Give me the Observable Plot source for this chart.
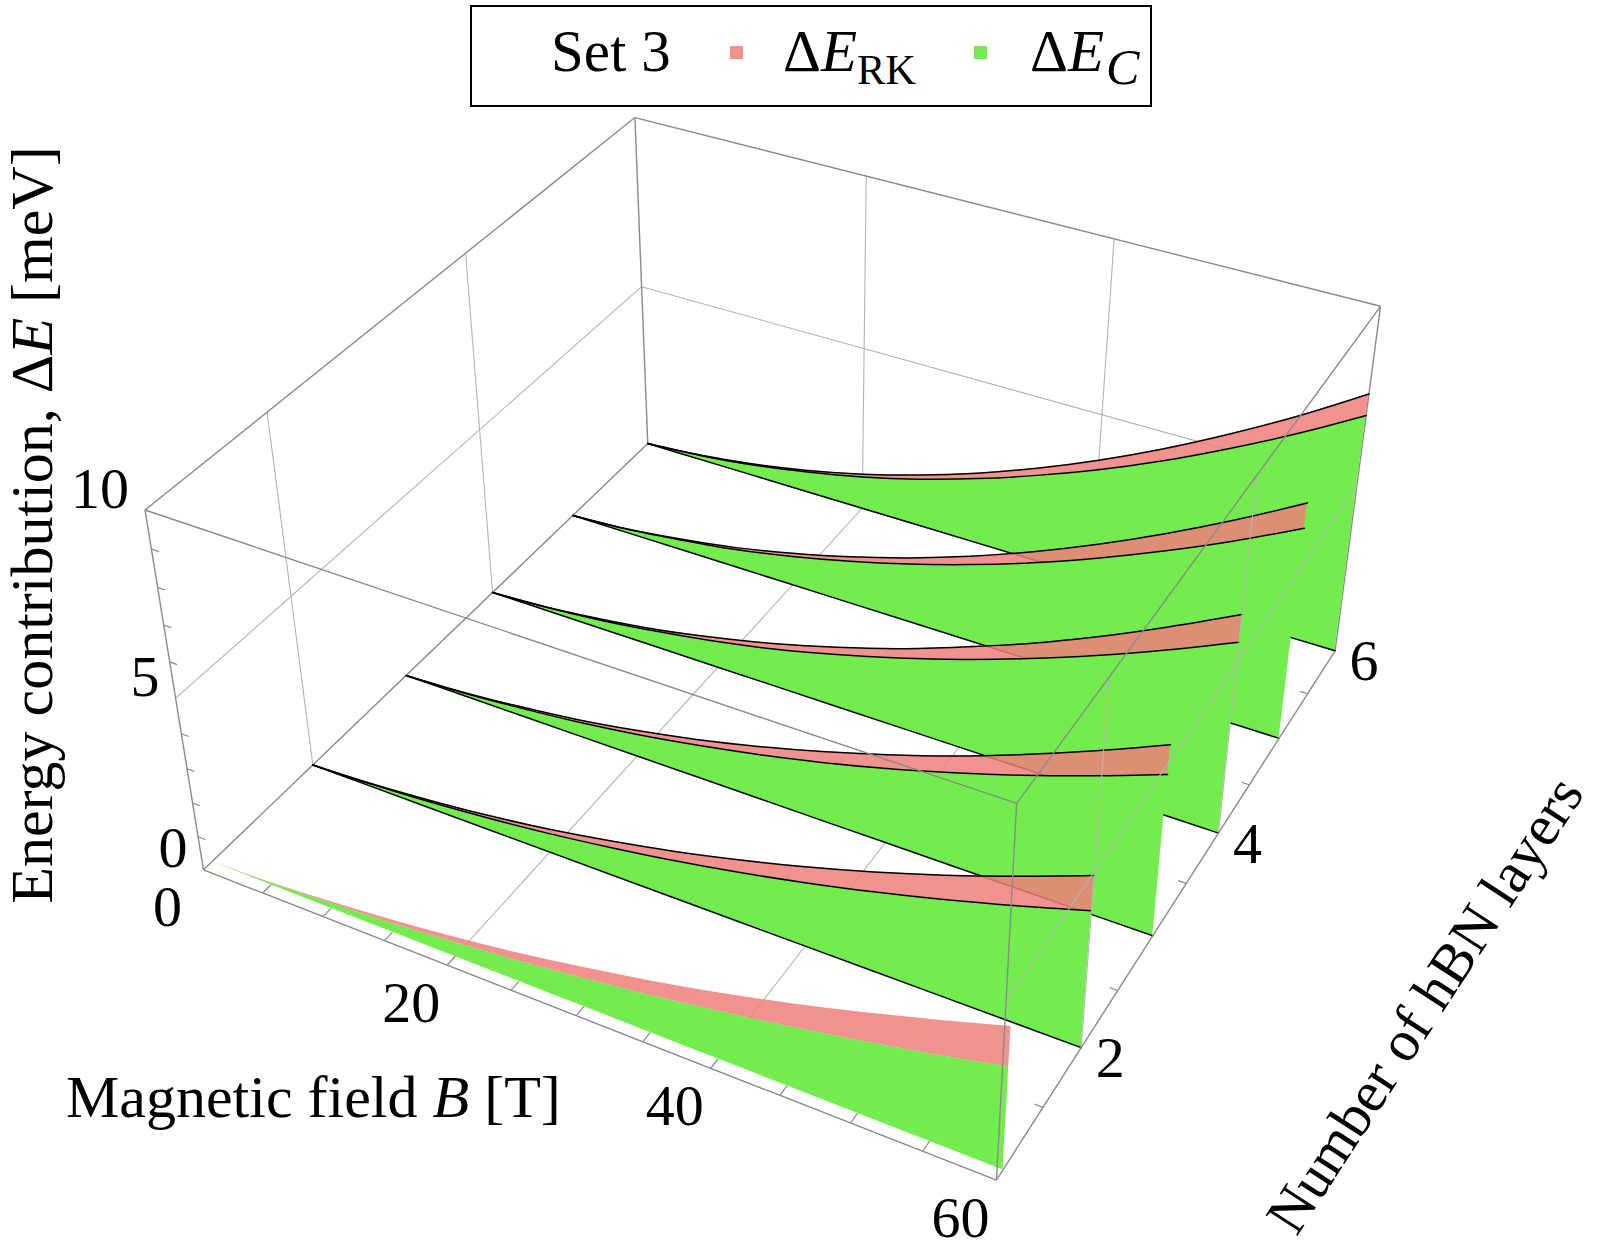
<!DOCTYPE html>
<html>
<head>
<meta charset="utf-8">
<script src="https://cdn.jsdelivr.net/npm/d3@7"></script>
<script src="https://cdn.jsdelivr.net/npm/@observablehq/plot@0.6"></script>
<style>
html, body { margin: 0; padding: 0; background: #fff; }
#wrap { position: relative; width: 1600px; height: 1250px; overflow: hidden;
  font-family: "Liberation Serif", "Times New Roman", serif; color: #000; }
#wrap svg { position: absolute; left: 0; top: 0; }
.lbl { position: absolute; white-space: nowrap; line-height: 1; }
#legend { position: absolute; left: 470px; top: 5px; width: 682px; height: 102px;
  border: 2.6px solid #000; box-sizing: border-box; background: #fff; }
.sw { position: absolute; width: 13px; height: 13px; }
.sub { font-size: 0.72em; position: relative; top: 0.3em; }
.subc { font-size: 0.85em; position: relative; top: 0.26em; margin-left: 0.04em; }
i { font-style: italic; }
</style>
</head>
<body>
<div id="wrap"></div>
<script>
// ---------------- data ----------------
const fieldB = [0, 5, 10, 15, 20, 25, 30, 35, 40, 45, 50, 55, 60];   // T
const layers = [1, 2, 3, 4, 5, 6];                                     // hBN layers

// Delta E_RK (meV) per number of layers
const rkL1 = [0, 0.07, 0.20, 0.37, 0.59, 0.85, 1.17, 1.53, 1.94, 2.40, 2.91, 3.47, 4.06];
const rkL2 = [0, 0.09, 0.24, 0.44, 0.70, 1.03, 1.41, 1.85, 2.34, 2.89, 3.50, 4.17, 4.89];
const rkL3 = [0, 0.10, 0.27, 0.49, 0.79, 1.15, 1.58, 2.07, 2.62, 3.23, 3.92, 4.67, 5.48];
const rkL4 = [0, 0.11, 0.31, 0.57, 0.92, 1.33, 1.82, 2.38, 3.03, 3.73, 4.52, 5.39, 6.32];
const rkL5 = [0, 0.12, 0.34, 0.62, 1.00, 1.45, 1.98, 2.59, 3.29, 4.07, 4.93, 5.87, 6.89];
const rkL6 = [0, 0.14, 0.37, 0.69, 1.10, 1.60, 2.19, 2.87, 3.64, 4.50, 5.45, 6.48, 7.61];
// Delta E_C (meV) per number of layers
const cL1 = [0, 0.05, 0.15, 0.27, 0.43, 0.62, 0.85, 1.11, 1.41, 1.74, 2.11, 2.51, 2.95];
const cL2 = [0, 0.07, 0.19, 0.36, 0.57, 0.83, 1.13, 1.48, 1.88, 2.32, 2.81, 3.35, 3.93];
const cL3 = [0, 0.08, 0.23, 0.42, 0.67, 0.98, 1.34, 1.75, 2.22, 2.75, 3.33, 3.97, 4.66];
const cL4 = [0, 0.10, 0.27, 0.51, 0.80, 1.16, 1.60, 2.10, 2.66, 3.29, 3.98, 4.74, 5.56];
const cL5 = [0, 0.11, 0.31, 0.56, 0.90, 1.31, 1.79, 2.34, 2.96, 3.66, 4.43, 5.27, 6.19];
const cL6 = [0, 0.13, 0.34, 0.64, 1.01, 1.47, 2.02, 2.65, 3.35, 4.14, 5.02, 5.97, 7.01];

// tick labels
const bTickLabels = [0, 20, 40, 60];
const nTickLabels = [2, 4, 6];
const eTickLabels = [0, 5, 10];
const bMinor = [5, 10, 15, 20, 25, 30, 35, 40, 45, 50, 55];
const nMinor = [1.5, 2.5, 3.5, 4.5, 5.5];
const eMinor = [1, 2, 3, 4, 6, 7, 8, 9];
const bGrid = [20, 40];
const nGrid = [2, 4];
const eGrid = [5];

// ---------------- 3D box and camera ----------------
const B0 = 0, B1 = 60, N0 = 0.92, N1 = 6, E0 = 0, E1 = 10;
// camera calibration: box corners and edge ticks (data point -> picture pixel)
const calib = [
  [0, N0, 0, 202, 869], [0, N0, 10, 144, 509], [60, N0, 0, 995, 1179], [60, N0, 10, 1016, 803],
  [0, 6, 0, 647, 443], [0, 6, 10, 635, 118], [60, 6, 0, 1335, 650], [60, 6, 10, 1380, 305],
  [60, 2, 0, 1081, 1048], [60, 3, 0, 1152, 935], [60, 4, 0, 1217, 833], [60, 5, 0, 1279, 738],
  [0, 2, 0, 312, 763], [0, 4, 0, 492, 592], [0, 5, 0, 572, 515],
  [20, N0, 0, 450, 966], [40, N0, 0, 710, 1068], [0, N0, 5, 175, 698]
];
function norm(b, n, e) { return [(b - B0) / (B1 - B0), (n - N0) / (N1 - N0), (e - E0) / (E1 - E0)]; }
function fitCamera(pts) {
  const rows = [], rhs = [];
  for (const [b, n, e, px, py] of pts) {
    const [X, Y, Z] = norm(b, n, e), u = px / 1000, v = py / 1000;
    rows.push([X, Y, Z, 1, 0, 0, 0, 0, -u * X, -u * Y, -u * Z]); rhs.push(u);
    rows.push([0, 0, 0, 0, X, Y, Z, 1, -v * X, -v * Y, -v * Z]); rhs.push(v);
  }
  const m = 11;
  const M = Array.from({length: m}, () => new Array(m + 1).fill(0));
  rows.forEach((r, k) => {
    for (let i = 0; i < m; i++) {
      for (let j = 0; j < m; j++) M[i][j] += r[i] * r[j];
      M[i][m] += r[i] * rhs[k];
    }
  });
  for (let c = 0; c < m; c++) {
    let p = c;
    for (let r = c + 1; r < m; r++) if (Math.abs(M[r][c]) > Math.abs(M[p][c])) p = r;
    [M[c], M[p]] = [M[p], M[c]];
    for (let r = 0; r < m; r++) {
      if (r === c) continue;
      const f = M[r][c] / M[c][c];
      for (let j = c; j <= m; j++) M[r][j] -= f * M[c][j];
    }
  }
  return M.map((r, i) => r[m] / r[i]);
}
const cam = fitCamera(calib);
function P(b, n, e) {
  const [X, Y, Z] = norm(b, n, e);
  const w = cam[8] * X + cam[9] * Y + cam[10] * Z + 1;
  return [1000 * (cam[0] * X + cam[1] * Y + cam[2] * Z + cam[3]) / w,
          1000 * (cam[4] * X + cam[5] * Y + cam[6] * Z + cam[7]) / w];
}
function seg(a, b) {
  const p = P(...a), q = P(...b);
  return {x1: p[0], y1: p[1], x2: q[0], y2: q[1]};
}

// ---------------- styles ----------------
const GREEN = "#73EC4D";
const PINK = "#EE7F7B";
const EDGE = "#8a8a8a";
const GRID = "#b4b4b4";
const FONT = "Liberation Serif, Times New Roman, serif";

// back grid and edges
const backGrid = [
  ...nGrid.map(n => seg([0, n, 0], [0, n, 10])),
  ...eGrid.map(e => seg([0, N0, e], [0, N1, e])),
  ...bGrid.map(b => seg([b, N1, 0], [b, N1, 10])),
  ...eGrid.map(e => seg([0, N1, e], [60, N1, e])),
  ...bGrid.map(b => seg([b, N0, 0], [b, N1, 0]))
];
const backEdges = [
  seg([0, N1, 0], [0, N1, 10]), seg([0, N1, 10], [60, N1, 10]), seg([0, N0, 10], [0, N1, 10]),
  seg([0, N0, 0], [0, N1, 0]), seg([0, N1, 0], [60, N1, 0]), seg([60, N1, 0], [60, N1, 10])
];
const frontGrid = [
  ...nGrid.map(n => seg([60, n, 0], [60, n, 10])),
  ...eGrid.map(e => seg([60, N0, e], [60, N1, e]))
];
const frontEdges = [
  seg([0, N0, 0], [0, N0, 10]), seg([0, N0, 0], [60, N0, 0]), seg([60, N0, 0], [60, N1, 0]),
  seg([60, N0, 0], [60, N0, 10]), seg([0, N0, 10], [60, N0, 10]), seg([60, N0, 10], [60, N1, 10])
];
const tickSegs = [
  ...eMinor.map(e => seg([0, N0, e], [0.6, N0, e])),
  ...bMinor.map(b => seg([b, N0, 0], [b, N0 + 0.08, 0])),
  ...nMinor.map(n => seg([60, n, 0], [59.4, n, 0]))
];

const rkSeries = [rkL1, rkL2, rkL3, rkL4, rkL5, rkL6];
const cSeries = [cL1, cL2, cL3, cL4, cL5, cL6];

const marks = [
  Plot.link(backGrid, {x1: "x1", y1: "y1", x2: "x2", y2: "y2", stroke: GRID, strokeWidth: 1.1}),
  Plot.link(backEdges, {x1: "x1", y1: "y1", x2: "x2", y2: "y2", stroke: EDGE, strokeWidth: 1.4})
];

for (let k = layers.length - 1; k >= 0; k--) {
  const N = layers[k];
  const rows = fieldB.map((b, i) => ({b, n: N, c: cSeries[k][i], rk: rkSeries[k][i]}));
  marks.push(Plot.area(rows, {
    x1: d => P(d.b, d.n, 0)[0], y1: d => P(d.b, d.n, 0)[1],
    x2: d => P(d.b, d.n, d.c)[0], y2: d => P(d.b, d.n, d.c)[1],
    fill: GREEN, curve: "catmull-rom"
  }));
  marks.push(Plot.area(rows, {
    x1: d => P(d.b, d.n, d.c)[0], y1: d => P(d.b, d.n, d.c)[1],
    x2: d => P(d.b, d.n, d.rk)[0], y2: d => P(d.b, d.n, d.rk)[1],
    fill: PINK, fillOpacity: 0.85, curve: "catmull-rom"
  }));
  if (N > 1) {
    for (const key of ["zero", "c", "rk"]) {
      const val = d => key === "zero" ? 0 : d[key];
      marks.push(Plot.line(rows, {
        x: d => P(d.b, d.n, val(d))[0], y: d => P(d.b, d.n, val(d))[1],
        stroke: "#000", strokeWidth: 1.5, curve: "catmull-rom"
      }));
    }
  }
}

marks.push(
  Plot.link(frontGrid, {x1: "x1", y1: "y1", x2: "x2", y2: "y2", stroke: GRID, strokeWidth: 1.1}),
  Plot.link(frontEdges, {x1: "x1", y1: "y1", x2: "x2", y2: "y2", stroke: EDGE, strokeWidth: 1.4}),
  Plot.link(tickSegs, {x1: "x1", y1: "y1", x2: "x2", y2: "y2", stroke: EDGE, strokeWidth: 1.2}),
  Plot.text(eTickLabels, {x: d => P(0, N0, d)[0], y: d => P(0, N0, d)[1], text: d => String(d),
    textAnchor: "end", dx: -16, dy: -21, fontSize: 58, fontFamily: FONT, fill: "#000"}),
  Plot.text(bTickLabels, {x: d => P(d, N0, 0)[0], y: d => P(d, N0, 0)[1], text: d => String(d),
    textAnchor: "middle", dx: -36, dy: 38, fontSize: 58, fontFamily: FONT, fill: "#000"}),
  Plot.text(nTickLabels, {x: d => P(60, d, 0)[0], y: d => P(60, d, 0)[1], text: d => String(d),
    textAnchor: "middle", dx: 29, dy: 11, fontSize: 58, fontFamily: FONT, fill: "#000"})
);

const chart = Plot.plot({
  width: 1600, height: 1250, margin: 0,
  x: {type: "linear", domain: [0, 1600], range: [0, 1600], axis: null},
  y: {type: "linear", domain: [0, 1250], range: [0, 1250], axis: null},
  style: {background: "transparent", fontFamily: FONT, overflow: "visible"},
  marks
});

const wrap = document.getElementById("wrap");
wrap.appendChild(chart);

// ---------------- titles & legend (HTML text) ----------------
function addLabel(html, css, cls = "lbl") {
  const d = document.createElement("div");
  d.className = cls;
  d.innerHTML = html;
  Object.assign(d.style, css);
  wrap.appendChild(d);
  return d;
}
addLabel("Energy contribution, &Delta;<i>E</i> [meV]",
  {left: "32px", top: "525px", fontSize: "60px", transform: "translate(-50%,-50%) rotate(-90deg)"});
addLabel("Magnetic field <i>B</i> [T]",
  {left: "66px", top: "1067px", fontSize: "60px"});
addLabel("Number of hBN layers",
  {left: "1425px", top: "1005px", fontSize: "58px", transform: "translate(-50%,-50%) rotate(-57deg)"});

const legend = document.createElement("div");
legend.id = "legend";
wrap.appendChild(legend);
addLabel("Set 3", {left: "551px", top: "22px", fontSize: "59px"});
addLabel("", {left: "730px", top: "46px", background: PINK, opacity: 0.85}, "sw");
addLabel("&Delta;<i>E</i><span class='sub'>RK</span>", {left: "783px", top: "22px", fontSize: "59px"});
addLabel("", {left: "974px", top: "46px", background: GREEN}, "sw");
addLabel("&Delta;<i>E</i><span class='subc'><i>C</i></span>", {left: "1030px", top: "22px", fontSize: "59px"});
</script>
</body>
</html>
